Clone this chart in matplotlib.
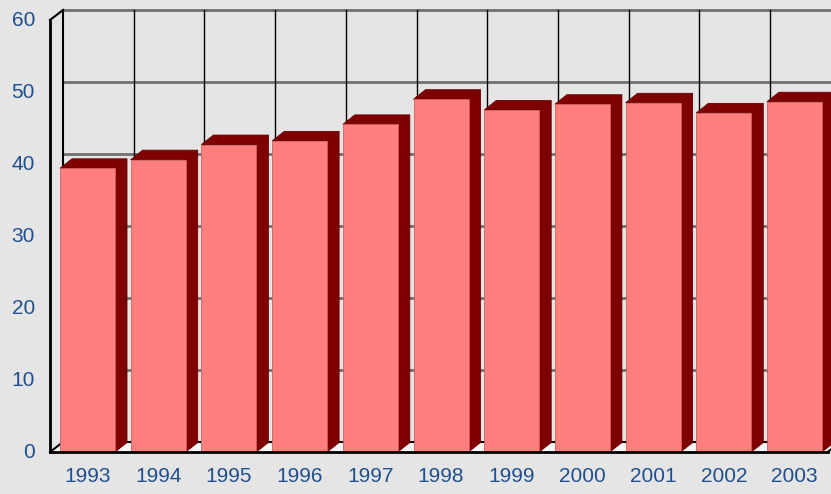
import matplotlib
matplotlib.use("Agg")
import matplotlib.pyplot as plt
from matplotlib.patches import Polygon, Rectangle

years = ["1993", "1994", "1995", "1996", "1997", "1998",
         "1999", "2000", "2001", "2002", "2003"]
values = [39.4, 40.6, 42.7, 43.2, 45.5, 49.0, 47.5, 48.3, 48.5, 47.1, 48.65]
yticks = [0, 10, 20, 30, 40, 50, 60]

# pixel scale of the reference: one category = 70.7 px, one unit = 7.2 px
cat_px = 70.7
unit_px = 7.2
wall_dx = 13 / cat_px
wall_dy = 10 / unit_px
bar_dx = 12 / cat_px
bar_dy = 9.5 / unit_px
bar_off = 10 / cat_px
bar_w = 55 / cat_px

bg = "#e5e5e5"
front_col = "#ff7f7f"
dark_col = "#7f0000"
lab_col = "#1f4f8f"

fig = plt.figure(figsize=(8.31, 4.94), dpi=100)
fig.patch.set_facecolor(bg)
ax = fig.add_axes([0, 0, 1, 1])
ax.set_xlim(-50 / cat_px, (831 - 50) / cat_px)
ax.set_ylim(-42 / unit_px, 452 / unit_px)
ax.axis("off")

n = len(years)
ymax = yticks[-1]

# back wall
ax.add_patch(Rectangle((wall_dx, wall_dy), n, ymax, facecolor=bg, edgecolor="none", zorder=0))
for t in yticks[1:]:
    ax.plot([wall_dx, n + wall_dx], [t + wall_dy, t + wall_dy], color="#707070", lw=2, zorder=1)
for i in range(1, n + 1):
    ax.plot([i + wall_dx, i + wall_dx], [wall_dy, ymax + wall_dy], color="black", lw=1, zorder=1)

# floor
ax.add_patch(Polygon([(0, 0), (n, 0), (n + wall_dx, wall_dy), (wall_dx, wall_dy)],
                     closed=True, facecolor="#f6f6f6", edgecolor="none", zorder=1))
ax.plot([wall_dx, n + wall_dx], [wall_dy, wall_dy], color="black", lw=1.5, zorder=1)

# left wall edges
ax.plot([wall_dx, wall_dx], [wall_dy, ymax + wall_dy], color="black", lw=1.5, zorder=1)
ax.plot([0, wall_dx], [ymax, ymax + wall_dy], color="black", lw=1.5, zorder=1)
ax.plot([0, wall_dx], [0, wall_dy], color="black", lw=1.5, zorder=1)
ax.plot([n, n + wall_dx], [0, wall_dy], color="black", lw=1.5, zorder=1)

# bars
for i, v in enumerate(values):
    x0 = i + bar_off
    x1 = x0 + bar_w
    side = [(x1, 0), (x1 + bar_dx, bar_dy), (x1 + bar_dx, v + bar_dy), (x1, v)]
    top = [(x0, v), (x1, v), (x1 + bar_dx, v + bar_dy), (x0 + bar_dx, v + bar_dy)]
    ax.add_patch(Polygon(side, closed=True, facecolor=dark_col, edgecolor="#6a0000", lw=0.6, zorder=3))
    ax.add_patch(Polygon(top, closed=True, facecolor=dark_col, edgecolor="#6a0000", lw=0.6, zorder=3))
ax.bar([i + bar_off + bar_w / 2 for i in range(n)], values, width=bar_w,
       color=front_col, edgecolor="#d06060", linewidth=0.6, zorder=4)

# front axis lines
ax.plot([0, 0], [0, ymax], color="black", lw=2, zorder=5)
ax.plot([0, n], [0, 0], color="black", lw=2, zorder=5)

# labels
for t in yticks:
    ax.text(-15 / cat_px, t, str(t), ha="right", va="center", fontsize=15,
            color=lab_col, family="Liberation Sans")
for i, yr in enumerate(years):
    ax.text(i + bar_off + bar_w / 2, -24 / unit_px, yr, ha="center", va="center",
            fontsize=15, color=lab_col, family="Liberation Sans")

fig.savefig("out.png", dpi=100, facecolor=bg)
